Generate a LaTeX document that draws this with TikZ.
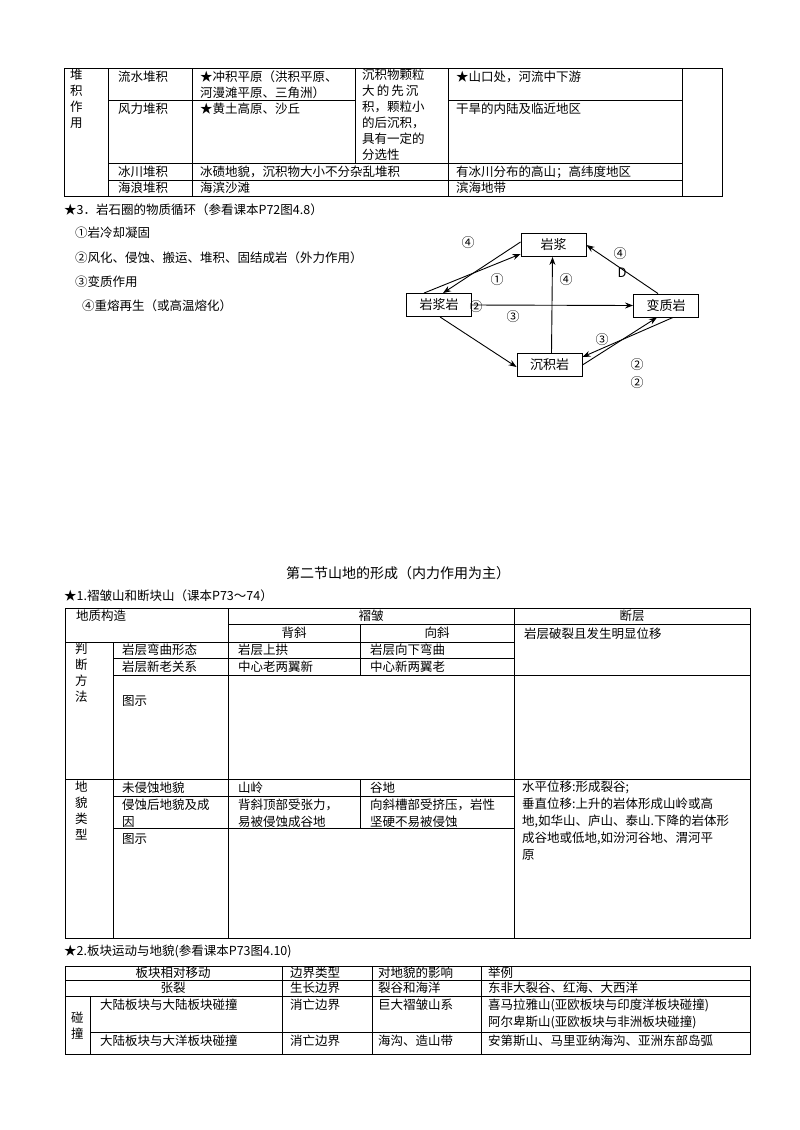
\documentclass[tikz,border=0pt]{standalone}
\usepackage{fontspec}
\setmainfont{Noto Sans CJK SC}
\usetikzlibrary{arrows.meta}
\begin{document}
\begin{tikzpicture}[x=1pt,y=-1pt,
  tx/.style={anchor=west,inner sep=0pt,font=\fontsize{12.5}{15}\selectfont},
  tc/.style={anchor=center,inner sep=0pt,font=\fontsize{12.5}{15}\selectfont},
  ln/.style={line width=0.8pt},
  rock/.style={draw,line width=0.9pt,minimum width=65pt,minimum height=23pt,inner sep=0pt,font=\fontsize{13}{15}\selectfont},
  ar/.style={-{Stealth[length=8pt,width=6pt]},line width=0.9pt},
  num/.style={inner sep=0pt,font=\fontsize{13}{15}\selectfont}]
\useasboundingbox[fill=white] (0,0) rectangle (800,1130);
% ---------- top table
\draw[ln] (64,68) rectangle (722,196);
\foreach \x in {108,192,448,682} \draw[ln] (\x,68) -- (\x,196);
\draw[ln] (355,68) -- (355,163);
\draw[ln] (108,100) -- (355,100); \draw[ln] (448,100) -- (682,100);
\draw[ln] (108,163) -- (682,163);
\draw[ln] (108,180) -- (682,180);
\node[tx,align=left,font=\fontsize{12.5}{16}\selectfont,anchor=north west] (a0) at (70,69) {堆\\积\\作\\用};
\node[tx] (a1) at (118,77) {流水堆积};
\node[tx] (a2) at (118,109) {风力堆积};
\node[tx] (a3) at (118,172) {冰川堆积};
\node[tx] (a4) at (118,188) {海浪堆积};
\node[tx] (a5) at (200,77) {★冲积平原（洪积平原、};
\node[tx] (a6) at (200,93) {河漫滩平原、三角洲）};
\node[tx] (a7) at (200,109) {★黄土高原、沙丘};
\node[tx,align=left,font=\fontsize{12.5}{16}\selectfont,anchor=north west] (a8) at (362,69) {沉积物颗粒\\大\,的\,先\,沉\\积，颗粒小\\的后沉积，\\具有一定的\\分选性};
\node[tx] (a9) at (200,172) {冰碛地貌，沉积物大小不分杂乱堆积};
\node[tx] (a10) at (200,188) {海滨沙滩};
\node[tx] (a11) at (456,77) {★山口处，河流中下游};
\node[tx] (a12) at (456,109) {干旱的内陆及临近地区};
\node[tx] (a13) at (456,172) {有冰川分布的高山；高纬度地区};
\node[tx] (a14) at (456,188) {滨海地带};
% ---------- rock cycle
\node[tx] (h3) at (64,210) {★3．岩石圈的物质循环（参看课本P72图4.8）};
\node[tx] (l1) at (75,233) {①岩冷却凝固};
\node[tx] (l2) at (75,258) {②风化、侵蚀、搬运、堆积、固结成岩（外力作用）};
\node[tx] (l3) at (75,282) {③变质作用};
\node[tx] (l4) at (82,306) {④重熔再生（或高温熔化）};
\node[rock] (ym) at (553.5,245) {岩浆};
\node[rock] (ymy) at (439,305) {岩浆岩};
\node[rock] (bzy) at (666,305.5) {变质岩};
\node[rock] (cjy) at (549.5,365) {沉积岩};
\draw[ar] ([xshift=-15pt]ymy.north) -- ([yshift=-9pt]ym.west);
\draw[ar] ([yshift=3pt]ym.west) -- ([xshift=4pt]ymy.north);
\draw[ar] (ymy.east) -- (bzy.west);
\draw[ar] ([xshift=1pt]ymy.south) -- ([yshift=-2pt]cjy.west);
\draw[ar] ([xshift=2pt]cjy.north) -- ([xshift=-1pt]ym.south);
\draw[ar] ([xshift=-8pt]bzy.north) -- (ym.east);
\draw[ar] ([yshift=0pt]cjy.east) -- ([xshift=-9pt]bzy.south);
\draw[ar] ([xshift=7pt]bzy.south) -- ([yshift=8pt]cjy.east);
\node[num] (n1) at (468,243) {④};
\node[num] (n2) at (497,280) {①};
\node[num] (n3) at (476,307) {②};
\node[num] (n4) at (513,317) {③};
\node[num] (n5) at (566,280) {④};
\node[num] (n6) at (620,254) {④};
\node[num] (n7) at (622,273) {D};
\node[num] (n8) at (602,340) {③};
\node[num] (n9) at (637,365) {②};
\node[num] (n10) at (637,383) {②};
% ---------- section 2
\node[tc,font=\fontsize{14}{16}\selectfont] (tt) at (398,573) {第二节山地的形成（内力作用为主）};
\node[tx] (h1) at (64,596) {★1.褶皱山和断块山（课本P73～74）};
\draw[ln] (65,608) rectangle (750,938);
\draw[ln] (228,624) -- (750,624);
\draw[ln] (65,642) -- (514,642);
\draw[ln] (113,658) -- (514,658);
\draw[ln] (113,675) -- (750,675);
\draw[ln] (65,779) -- (750,779);
\draw[ln] (113,796) -- (514,796);
\draw[ln] (113,828) -- (514,828);
\draw[ln] (113,642) -- (113,938);
\draw[ln] (228,608) -- (228,938);
\draw[ln] (514,608) -- (514,938);
\draw[ln] (360,624) -- (360,675);
\draw[ln] (360,779) -- (360,828);
\node[tx] (b1) at (76,616) {地质构造};
\node[tc] (b2) at (371,616) {褶皱};
\node[tc] (b3) at (632,616) {断层};
\node[tc] (b4) at (294,633) {背斜};
\node[tc] (b5) at (437,633) {向斜};
\node[tx] (b6) at (524,634) {岩层破裂且发生明显位移};
\node[tx,align=left,font=\fontsize{12.5}{16}\selectfont,anchor=north west] (b7) at (75,643) {判\\断\\方\\法};
\node[tx] (b8) at (122,650) {岩层弯曲形态};
\node[tx] (b9) at (122,667) {岩层新老关系};
\node[tx] (b10) at (122,701) {图示};
\node[tx] (b11) at (238,650) {岩层上拱};
\node[tx] (b12) at (370,650) {岩层向下弯曲};
\node[tx] (b13) at (238,667) {中心老两翼新};
\node[tx] (b14) at (370,667) {中心新两翼老};
\node[tx,align=left,font=\fontsize{12.5}{16}\selectfont,anchor=north west] (b15) at (75,781) {地\\貌\\类\\型};
\node[tx] (b16) at (122,788) {未侵蚀地貌};
\node[tx] (b17) at (122,805) {侵蚀后地貌及成};
\node[tx] (b18) at (122,822) {因};
\node[tx] (b19) at (122,839) {图示};
\node[tx] (b20) at (238,788) {山岭};
\node[tx] (b21) at (370,788) {谷地};
\node[tx] (b22) at (238,805) {背斜顶部受张力，};
\node[tx] (b23) at (238,822) {易被侵蚀成谷地};
\node[tx] (b24) at (370,805) {向斜槽部受挤压，岩性};
\node[tx] (b25) at (370,822) {坚硬不易被侵蚀};
\node[tx,align=left,font=\fontsize{12.5}{17}\selectfont,anchor=north west] (b26) at (522,781) {水平位移:形成裂谷;\\垂直位移:上升的岩体形成山岭或高\\地,如华山、庐山、泰山.下降的岩体形\\成谷地或低地,如汾河谷地、渭河平\\原};
% ---------- bottom table
\node[tx] (h2) at (64,951) {★2.板块运动与地貌(参看课本P73图4.10)};
\draw[ln] (65,966) rectangle (750,1054);
\draw[ln] (65,980) -- (750,980);
\draw[ln] (65,996) -- (750,996);
\draw[ln] (90,1032) -- (750,1032);
\draw[ln] (90,996) -- (90,1054);
\foreach \x in {282,372,481} \draw[ln] (\x,966) -- (\x,1054);
\node[tc] (c1) at (173,973) {板块相对移动};
\node[tx] (c2) at (290,973) {边界类型};
\node[tx] (c3) at (378,973) {对地貌的影响};
\node[tx] (c4) at (488,973) {举例};
\node[tc] (c5) at (173,988) {张裂};
\node[tx] (c6) at (290,988) {生长边界};
\node[tx] (c7) at (378,988) {裂谷和海洋};
\node[tx] (c8) at (488,988) {东非大裂谷、红海、大西洋};
\node[tx,align=left,font=\fontsize{12.5}{16}\selectfont,anchor=north west] (c9) at (71,1012) {碰\\撞};
\node[tx] (c10) at (100,1005) {大陆板块与大陆板块碰撞};
\node[tx] (c11) at (290,1005) {消亡边界};
\node[tx] (c12) at (378,1005) {巨大褶皱山系};
\node[tx] (c13) at (488,1005) {喜马拉雅山(亚欧板块与印度洋板块碰撞)};
\node[tx] (c14) at (488,1022) {阿尔卑斯山(亚欧板块与非洲板块碰撞)};
\node[tx] (c15) at (100,1041) {大陆板块与大洋板块碰撞};
\node[tx] (c16) at (290,1041) {消亡边界};
\node[tx] (c17) at (378,1041) {海沟、造山带};
\node[tx] (c18) at (488,1041) {安第斯山、马里亚纳海沟、亚洲东部岛弧};
\end{tikzpicture}
\end{document}
